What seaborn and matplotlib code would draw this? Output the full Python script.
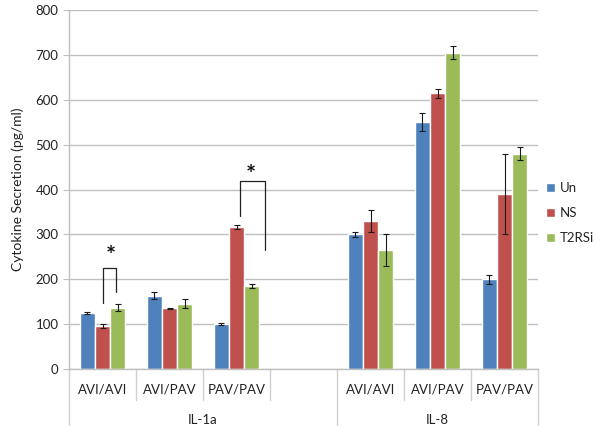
import numpy as np
import pandas as pd
import matplotlib
matplotlib.use("Agg")
import matplotlib.pyplot as plt
import matplotlib.transforms as mtransforms
from matplotlib.lines import Line2D
import seaborn as sns

# Data
slots = ["IL-1a AVI/AVI", "IL-1a AVI/PAV", "IL-1a PAV/PAV", "gap",
         "IL-8 AVI/AVI", "IL-8 AVI/PAV", "IL-8 PAV/PAV"]
slot_labels = ["AVI/AVI", "AVI/PAV", "PAV/PAV", "", "AVI/AVI", "AVI/PAV", "PAV/PAV"]
cytokines = ["IL-1a", "IL-8"]
cytokine_span = [(0, 3), (4, 6)]
treatments = ["Un", "NS", "T2RSi"]
colors = ["#4F81BD", "#C0504D", "#9BBB59"]

data_slots = ["IL-1a AVI/AVI", "IL-1a AVI/PAV", "IL-1a PAV/PAV",
              "IL-8 AVI/AVI", "IL-8 AVI/PAV", "IL-8 PAV/PAV"]
un_vals = [125, 163, 100, 300, 550, 200]
ns_vals = [96, 135, 316, 330, 615, 390]
t2_vals = [137, 145, 185, 265, 705, 480]
un_err = [3, 8, 2, 5, 20, 10]
ns_err = [4, 2, 5, 25, 10, 90]
t2_err = [7, 10, 4, 35, 15, 15]

# significance brackets: (x_left, x_right, y_left_bottom, y_right_bottom, y_top, star_x, star_y)
brackets = [
    (0.0, 0.2, 147, 172, 225, 0.13, 250),
    (2.05, 2.42, 341, 265, 419, 2.21, 431),
]

rows = []
for vals, errs, tr in [(un_vals, un_err, "Un"), (ns_vals, ns_err, "NS"), (t2_vals, t2_err, "T2RSi")]:
    for s, v, e in zip(data_slots, vals, errs):
        rows.append({"slot": s, "treatment": tr, "value": v, "err": e})
df = pd.DataFrame(rows)
err_lookup = {(r.slot, r.treatment): r.err for r in df.itertuples()}

sns.set_style("white")
plt.rcParams["font.family"] = ["Lato", "DejaVu Sans"]

fig = plt.figure(figsize=(6, 4.26), dpi=100)
ax = fig.add_axes([69 / 600, 57 / 426, 469 / 600, 359 / 426])

sns.barplot(
    data=df, x="slot", y="value", hue="treatment",
    order=slots, hue_order=treatments, palette=colors,
    width=0.675, errorbar=None, saturation=1, ax=ax,
)

# error bars from the drawn bars
for container, tr in zip(ax.containers, treatments):
    for bar in container:
        cx = bar.get_x() + bar.get_width() / 2
        idx = int(round(cx))
        err = err_lookup[(slots[idx], tr)]
        ax.errorbar(cx, bar.get_height(), yerr=err, fmt="none",
                    ecolor="#1a1a1a", elinewidth=0.8, capsize=2.2, capthick=0.8)

# significance brackets
for xl, xr, yl, yr, yt, sx, sy in brackets:
    ax.plot([xl, xl, xr, xr], [yl, yt, yt, yr], color="#222222", lw=0.9, clip_on=False)
    ax.text(sx, sy, "*", ha="center", va="center", fontsize=17, fontweight="bold", color="#111111")

ax.set_xlim(-0.5, 6.5)
ax.set_ylim(0, 800)
ax.set_yticks(np.arange(0, 801, 100))
ax.yaxis.grid(True, color="#BFBFBF", lw=1)
ax.set_axisbelow(True)
ax.tick_params(axis="y", labelsize=9.5, length=4, color="#BFBFBF", left=True, labelcolor="#222222")
ax.tick_params(axis="x", length=0, labelbottom=False)
ax.set_xlabel("")
ax.set_ylabel("Cytokine Secretion (pg/ml)", fontsize=10, color="#222222", labelpad=8)
for side in ["top", "right"]:
    ax.spines[side].set_visible(False)
for side in ["left", "bottom"]:
    ax.spines[side].set_color("#BFBFBF")
    ax.spines[side].set_linewidth(1)

# two-level category axis
trans = mtransforms.blended_transform_factory(ax.transData, ax.transAxes)
for i, lab in enumerate(slot_labels):
    ax.text(i, -0.058, lab, transform=trans, ha="center", va="center", fontsize=9.5, color="#222222")
for name, (a, b) in zip(cytokines, cytokine_span):
    ax.text((a + b) / 2, -0.142, name, transform=trans, ha="center", va="center", fontsize=9.5, color="#222222")
for i in range(len(slots) + 1):
    x = i - 0.5
    long_line = x in (-0.5, 3.5, 6.5)
    y_end = -0.16 if long_line else -0.085
    ax.add_line(Line2D([x, x], [0, y_end], transform=trans, color="#D0D0D0", lw=1, clip_on=False))

leg = ax.legend(loc="center left", frameon=False, fontsize=9.5,
                handlelength=0.7, handleheight=0.7, handletextpad=0.35, labelspacing=1.0,
                borderpad=0, borderaxespad=0)
leg.set_bbox_to_anchor((546 / 600, 1 - 213 / 426), transform=fig.transFigure)

fig.savefig("out.png", dpi=100)
